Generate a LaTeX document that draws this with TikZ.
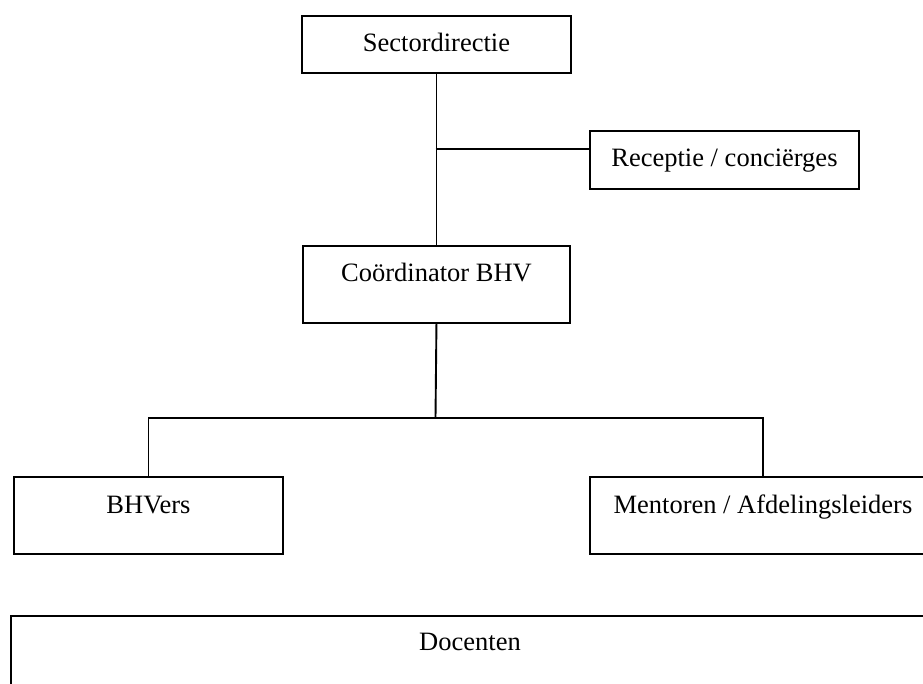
\documentclass[tikz,border=0pt]{standalone}
\usepackage{fontspec}
\setmainfont{Liberation Serif}
\begin{document}
\begin{tikzpicture}[x=1pt,y=-1pt,
  box/.style={draw=black,line width=1.9pt,fill=white,rectangle,inner sep=0pt},
  lbl/.style={anchor=base,inner sep=0pt,font=\fontsize{26.5}{30}\selectfont},
  conn/.style={draw=black,line width=1.9pt}]
\useasboundingbox (0,0) rectangle (923,684);
\clip (0,0) rectangle (923,684);
% boxes
\node[box,anchor=north west,minimum width=269pt,minimum height=57pt] (sd) at (301,15) {};
\node[box,anchor=north west,minimum width=269pt,minimum height=58pt] (rc) at (589,130) {};
\node[box,anchor=north west,minimum width=267pt,minimum height=77pt] (cb) at (302,245) {};
\node[box,anchor=north west,minimum width=269pt,minimum height=77pt] (bhv) at (13,476) {};
\node[box,anchor=north west,minimum width=346pt,minimum height=77pt] (men) at (589,476) {};
\node[box,anchor=north west,minimum width=920pt,minimum height=105pt] (doc) at (10,615) {};
% labels
\node[lbl] (sdt) at ([yshift=-37pt]sd.north) {Sectordirectie};
\node[lbl] (rct) at ([yshift=-37pt]rc.north) {Receptie / conciërges};
\node[lbl] (cbt) at ([yshift=-37pt]cb.north) {Coördinator BHV};
\node[lbl] (bhvt) at ([yshift=-37pt]bhv.north) {BHVers};
\node[lbl] (ment) at ([yshift=-37pt]men.north) {Mentoren / Afdelingsleiders};
\node[lbl] (doct) at ([yshift=-35pt]470,615) {Docenten};
% connectors
\coordinate (rj) at (435.5,149);
\coordinate (j) at (435.5,418);
\draw[conn] (sd.south) -- (cb.north);
\draw[conn] (rj) -- (rj -| rc.west);
\draw[conn] (cb.south) -- (j);
\draw[conn] (bhv.north) |- (j) -| (men.north);
\end{tikzpicture}
\end{document}
